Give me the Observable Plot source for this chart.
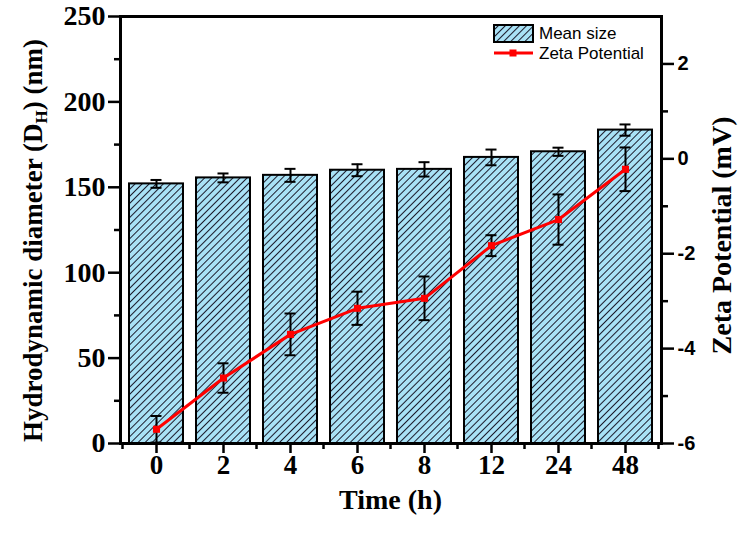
<!DOCTYPE html>
<html>
<head>
<meta charset="utf-8">
<script src="https://cdn.jsdelivr.net/npm/d3@7"></script>
<script src="https://cdn.jsdelivr.net/npm/@observablehq/plot@0.6"></script>
<style>
  html, body { margin: 0; padding: 0; background: #fff; }
  #chart svg { display: block; }
</style>
</head>
<body>
<div id="chart"></div>
<script>
// ---- data ----
const times = ["0", "2", "4", "6", "8", "12", "24", "48"];
const meanSize = [152, 155.5, 157, 160, 160.5, 167.5, 170.8, 183.5];
const sizeErr = [2.3, 2.6, 3.8, 3.5, 4.2, 4.6, 2.4, 3.3];
const zeta = [-5.70, -4.62, -3.70, -3.15, -2.94, -1.83, -1.28, -0.22];
const zetaErr = [0.28, 0.31, 0.44, 0.35, 0.46, 0.22, 0.53, 0.46];
const sizeTicks = [0, 50, 100, 150, 200, 250];
const sizeMinorTicks = [25, 75, 125, 175, 225];
const zetaTicks = [-6, -4, -2, 0, 2];
const zetaMinorTicks = [-5, -3, -1, 1];
const sizeDomain = [0, 250];
const zetaDomain = [-6, 3];

const table = times.map((t, i) => ({t, size: meanSize[i], se: sizeErr[i], zeta: zeta[i], ze: zetaErr[i]}));

// map zeta values onto the left (size) scale
const zy = z => sizeDomain[0] + (z - zetaDomain[0]) * (sizeDomain[1] - sizeDomain[0]) / (zetaDomain[1] - zetaDomain[0]);
const yz = v => zetaDomain[0] + (v - sizeDomain[0]) * (zetaDomain[1] - zetaDomain[0]) / (sizeDomain[1] - sizeDomain[0]);

const SERIF = "'Liberation Serif', 'Times New Roman', serif";
const SANS = "'Liberation Sans', Arial, sans-serif";

const defsMark = () => {
  const g = d3.create("svg:g");
  const p = g.append("defs").append("pattern")
    .attr("id", "hatch").attr("patternUnits", "userSpaceOnUse")
    .attr("width", 5).attr("height", 5).attr("patternTransform", "rotate(45)");
  p.append("rect").attr("width", 5).attr("height", 5).attr("fill", "#a9e2f6");
  p.append("line").attr("x1", 0.5).attr("y1", 0).attr("x2", 0.5).attr("y2", 5)
    .attr("stroke", "#1c1c2c").attr("stroke-width", 1);
  return g.node();
};

const xMinorTicks = (index, scales, values, dims) => {
  const x = scales.x;
  const xs = times.map(t => x(t));
  const step = xs[1] - xs[0];
  const bw = typeof x.bandwidth === "function" ? x.bandwidth() : step * 0.8;
  const gap = (step - bw) / 2;
  const g = d3.create("svg:g");
  const yb = dims.height - dims.marginBottom;
  const bounds = [xs[0] - gap, ...xs.map(v => v + bw + gap)];
  for (const b of bounds) {
    g.append("line").attr("x1", b).attr("x2", b).attr("y1", yb).attr("y2", yb + 6)
      .attr("stroke", "black").attr("stroke-width", 2.5);
  }
  return g.node();
};

const titlesMark = (index, scales, values, dims) => {
  const g = d3.create("svg:g").attr("font-family", SERIF).attr("font-weight", "bold")
    .attr("fill", "black").attr("text-anchor", "middle");
  const midY = (dims.marginTop + dims.height - dims.marginBottom) / 2;
  const midX = (dims.marginLeft + dims.width - dims.marginRight) / 2;
  // left title
  const lt = g.append("text").attr("font-size", 27)
    .attr("transform", `translate(42,${midY + 11}) rotate(-90)`);
  lt.append("tspan").text("Hydrodynamic diameter (D");
  lt.append("tspan").attr("font-size", 17).attr("dy", 5).text("H");
  lt.append("tspan").attr("dy", -5).text(") (nm)");
  // right title
  g.append("text").attr("font-size", 28)
    .attr("transform", `translate(731,${midY + 6}) rotate(-90)`)
    .text("Zeta Potential (mV)");
  // bottom title
  g.append("text").attr("font-size", 28)
    .attr("x", midX).attr("y", 509).text("Time (h)");
  return g.node();
};

const legendMark = () => {
  const g = d3.create("svg:g").attr("font-family", SANS).attr("font-size", 17)
    .attr("text-anchor", "start").attr("fill", "black");
  g.append("rect").attr("x", 494).attr("y", 25).attr("width", 39).attr("height", 17)
    .attr("fill", "url(#hatch)").attr("stroke", "black").attr("stroke-width", 2);
  g.append("text").attr("x", 539).attr("y", 33.5).attr("dy", "0.35em").text("Mean size");
  g.append("line").attr("x1", 494).attr("x2", 533).attr("y1", 53).attr("y2", 53)
    .attr("stroke", "#ff0000").attr("stroke-width", 3);
  g.append("rect").attr("x", 509.5).attr("y", 49.5).attr("width", 7).attr("height", 7).attr("fill", "#ff0000");
  g.append("text").attr("x", 539).attr("y", 53).attr("dy", "0.35em").text("Zeta Potential");
  return g.node();
};

const chart = Plot.plot({
  width: 746,
  height: 539,
  marginLeft: 120,
  marginRight: 85,
  marginTop: 16,
  marginBottom: 96,
  style: {background: "white", color: "black"},
  x: {type: "band", domain: times, paddingInner: 0.2, paddingOuter: 0.1, label: null},
  y: {domain: sizeDomain, label: null},
  marks: [
    defsMark,
    Plot.barY(table, {x: "t", y: "size", fill: "url(#hatch)", stroke: "black", strokeWidth: 2}),
    Plot.ruleX(table, {x: "t", y1: d => d.size - d.se, y2: d => d.size + d.se, stroke: "black", strokeWidth: 2}),
    Plot.tickY(table, {x: "t", y: d => d.size + d.se, stroke: "black", strokeWidth: 2, insetLeft: 21.5, insetRight: 21.5}),
    Plot.tickY(table, {x: "t", y: d => d.size - d.se, stroke: "black", strokeWidth: 2, insetLeft: 21.5, insetRight: 21.5}),
    Plot.line(table, {x: "t", y: d => zy(d.zeta), stroke: "#ff0000", strokeWidth: 3}),
    Plot.ruleX(table, {x: "t", y1: d => zy(d.zeta - d.ze), y2: d => zy(d.zeta + d.ze), stroke: "black", strokeWidth: 2}),
    Plot.tickY(table, {x: "t", y: d => zy(d.zeta + d.ze), stroke: "black", strokeWidth: 2, insetLeft: 21.5, insetRight: 21.5}),
    Plot.tickY(table, {x: "t", y: d => zy(d.zeta - d.ze), stroke: "black", strokeWidth: 2, insetLeft: 21.5, insetRight: 21.5}),
    Plot.dot(table, {x: "t", y: d => zy(d.zeta), symbol: "square", r: 4, fill: "#ff0000", stroke: "none"}),
    Plot.frame({stroke: "black", strokeWidth: 3}),
    Plot.axisY(sizeTicks, {anchor: "left", tickSize: 12, tickPadding: 3, strokeWidth: 2.5, fontSize: 28, fontWeight: "bold", fontFamily: SERIF, label: null}),
    Plot.axisY(sizeMinorTicks, {anchor: "left", tickSize: 6, strokeWidth: 2.5, tickFormat: () => "", label: null}),
    Plot.axisY(zetaTicks.map(zy), {anchor: "right", tickSize: 12, tickPadding: 4, strokeWidth: 2.5, tickFormat: v => String(Math.round(yz(v))), fontSize: 20, fontWeight: "bold", fontFamily: SANS, label: null}),
    Plot.axisY(zetaMinorTicks.map(zy), {anchor: "right", tickSize: 6, strokeWidth: 2.5, tickFormat: () => "", label: null}),
    Plot.axisX({anchor: "bottom", tickSize: 10, tickPadding: 1, strokeWidth: 2.5, fontSize: 27, fontWeight: "bold", fontFamily: SERIF, label: null}),
    xMinorTicks,
    titlesMark,
    legendMark
  ]
});
document.getElementById("chart").appendChild(chart);
</script>
</body>
</html>
